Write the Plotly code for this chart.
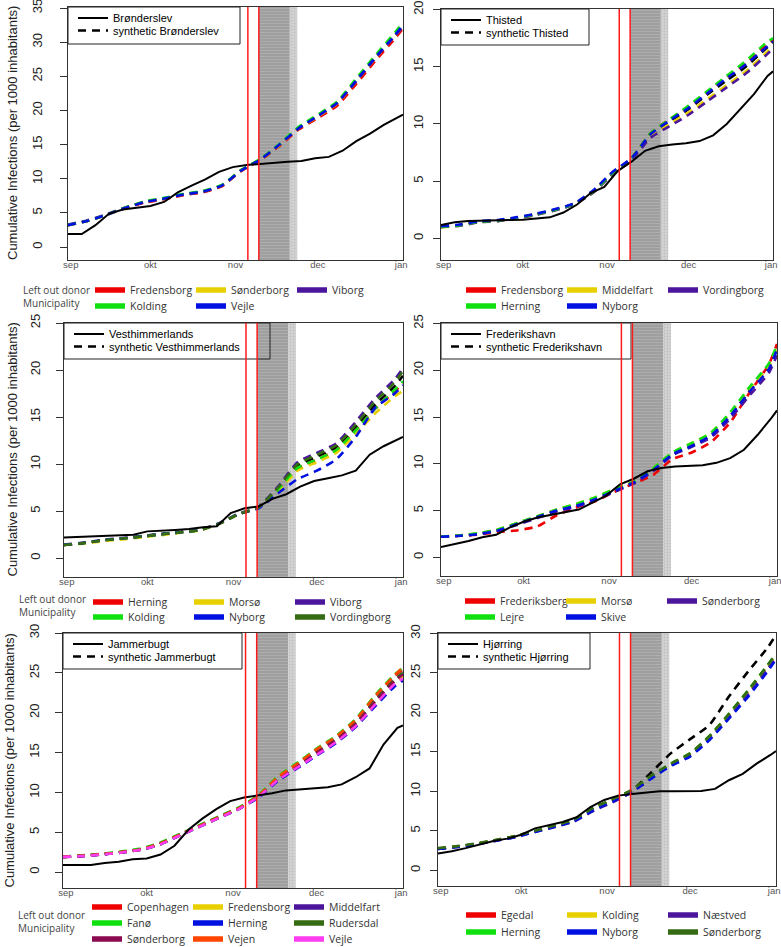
import plotly.graph_objects as go
from datetime import datetime

W, H = 781, 947

# ---------------- dates ----------------
dates_actual = ["2020-09-01", "2020-09-06", "2020-09-11", "2020-09-16", "2020-09-21", "2020-09-26",
                "2020-10-01", "2020-10-06", "2020-10-11", "2020-10-16", "2020-10-21", "2020-10-26", "2020-10-31",
                "2020-11-05", "2020-11-10", "2020-11-15", "2020-11-20", "2020-11-25", "2020-11-30",
                "2020-12-05", "2020-12-10", "2020-12-15", "2020-12-20", "2020-12-25", "2020-12-30", "2021-01-01"]
dates_synth = ["2020-09-01", "2020-09-08", "2020-09-15", "2020-09-22", "2020-09-29", "2020-10-06",
               "2020-10-13", "2020-10-20", "2020-10-27", "2020-11-03", "2020-11-10", "2020-11-17",
               "2020-11-24", "2020-12-01", "2020-12-08", "2020-12-15", "2020-12-22", "2020-12-29", "2021-01-01"]

announce_date = "2020-11-05 12:00"
lockdown_start = "2020-11-09 12:00"
lockdown_end = "2020-11-20 19:00"
phaseout_end = "2020-11-23 12:00"

x_start, x_end = "2020-09-01", "2021-01-01"
tick_dates = ["2020-09-02", "2020-10-01", "2020-11-01", "2020-12-01", "2020-12-31 08:00"]
tick_text = ["sep", "okt", "nov", "dec", "jan"]

# ---------------- colours ----------------
RED, YEL, PUR, GRN, BLU = "#ee0000", "#e8d000", "#4b159c", "#10e010", "#0010e0"
DKG, MAR, ORR, MAG = "#356b12", "#8b0a50", "#ff4500", "#ff3cf0"

# ---------------- Brønderslev ----------------
bron_actual = [1.9, 1.9, 3.2, 4.9, 5.5, 5.7, 6.0, 6.6, 8.0, 9.0, 9.9, 11.0, 11.7, 12.0, 12.2, 12.4,
               12.5, 12.6, 13.0, 13.2, 14.1, 15.5, 16.6, 17.9, 19.0, 19.4]
bron_synth = [3.2, 3.8, 4.7, 5.75, 6.6, 7.1, 7.7, 8.1, 9.0, 11.2, 12.8, 14.9, 17.4, 19.1, 21.0, 24.3, 27.7, 30.9, 32.3]
bron_fredensborg = [3.2, 3.8, 4.7, 5.7, 6.5, 7.0, 7.6, 8.0, 8.9, 11.1, 12.7, 14.8, 17.2, 18.9, 20.7, 23.9, 27.3, 30.5, 32.0]
bron_sonderborg = [3.2, 3.8, 4.7, 5.8, 6.6, 7.1, 7.7, 8.1, 9.0, 11.2, 12.8, 14.9, 17.4, 19.1, 21.0, 24.3, 27.7, 30.9, 32.4]
bron_viborg = [3.3, 3.9, 4.8, 5.8, 6.6, 7.1, 7.7, 8.1, 9.0, 11.2, 12.8, 15.0, 17.4, 19.2, 21.1, 24.3, 27.7, 30.9, 32.3]
bron_kolding = [3.2, 3.8, 4.7, 5.8, 6.7, 7.2, 7.8, 8.2, 9.1, 11.3, 12.9, 15.1, 17.6, 19.4, 21.3, 24.7, 28.1, 31.4, 32.9]
bron_vejle = [3.2, 3.8, 4.7, 5.75, 6.6, 7.1, 7.7, 8.1, 9.0, 11.2, 12.8, 15.0, 17.4, 19.2, 21.1, 24.4, 27.8, 31.0, 32.5]

# ---------------- Thisted ----------------
thi_actual = [1.15, 1.4, 1.5, 1.55, 1.6, 1.6, 1.62, 1.7, 1.83, 2.25, 2.95, 3.95, 4.5, 5.9, 6.7, 7.65,
              8.05, 8.2, 8.3, 8.5, 9.0, 10.0, 11.3, 12.6, 14.2, 14.6]
thi_synth = [1.0, 1.15, 1.45, 1.55, 1.8, 2.1, 2.5, 3.0, 4.1, 5.7, 6.9, 9.0, 10.2, 11.3, 12.6, 13.8, 15.0, 16.5, 17.2]
thi_fredensborg = [1.0, 1.15, 1.45, 1.55, 1.8, 2.1, 2.5, 3.0, 4.1, 5.7, 7.0, 9.2, 10.4, 11.5, 12.8, 14.1, 15.3, 16.8, 17.4]
thi_middelfart = [0.95, 1.1, 1.4, 1.5, 1.75, 2.05, 2.45, 2.95, 4.0, 5.6, 6.85, 8.9, 10.0, 11.0, 12.2, 13.4, 14.6, 16.1, 16.9]
thi_vordingborg = [1.0, 1.1, 1.4, 1.5, 1.75, 2.05, 2.45, 2.95, 4.0, 5.6, 6.8, 8.8, 9.8, 10.8, 12.0, 13.2, 14.4, 15.9, 16.6]
thi_herning = [1.0, 1.15, 1.45, 1.55, 1.8, 2.1, 2.5, 3.0, 4.1, 5.7, 7.0, 9.2, 10.4, 11.6, 12.9, 14.2, 15.5, 17.0, 17.5]
thi_nyborg = [1.05, 1.2, 1.5, 1.6, 1.85, 2.15, 2.55, 3.05, 4.2, 5.8, 7.0, 9.1, 10.3, 11.4, 12.7, 14.0, 15.2, 16.6, 17.2]

# ---------------- Vesthimmerlands ----------------
vest_actual = [2.2, 2.25, 2.3, 2.35, 2.4, 2.5, 2.85, 2.9, 3.0, 3.1, 3.3, 3.4, 4.8, 5.3, 5.5, 6.3,
               6.8, 7.6, 8.2, 8.5, 8.8, 9.3, 11.0, 11.9, 12.6, 12.9]
vest_synth = [1.4, 1.6, 1.9, 2.1, 2.3, 2.55, 2.75, 3.0, 3.7, 4.7, 5.4, 7.4, 9.8, 10.8, 11.8, 13.9, 16.3, 18.3, 19.4]
vest_herning = [1.4, 1.6, 1.9, 2.1, 2.3, 2.55, 2.75, 3.0, 3.7, 4.7, 5.4, 7.3, 9.5, 10.5, 11.5, 13.6, 15.9, 17.7, 18.6]
vest_morso = [1.4, 1.55, 1.8, 2.0, 2.2, 2.45, 2.7, 2.95, 3.65, 4.7, 5.4, 7.1, 9.3, 10.2, 11.2, 13.2, 15.4, 17.2, 17.8]
vest_viborg = [1.45, 1.65, 1.95, 2.15, 2.35, 2.6, 2.8, 3.05, 3.75, 4.75, 5.45, 7.6, 10.2, 11.2, 12.2, 14.5, 17.0, 19.0, 20.2]
vest_kolding = [1.4, 1.6, 1.9, 2.1, 2.3, 2.55, 2.75, 3.0, 3.7, 4.7, 5.4, 7.3, 9.6, 10.5, 11.5, 13.6, 15.9, 17.9, 18.8]
vest_nyborg = [1.4, 1.6, 1.9, 2.1, 2.3, 2.55, 2.75, 3.0, 3.7, 4.7, 5.3, 6.9, 8.4, 9.3, 10.5, 12.9, 16.0, 17.5, 18.4]
vest_vordingborg = [1.4, 1.6, 1.9, 2.1, 2.3, 2.55, 2.75, 3.0, 3.7, 4.7, 5.4, 7.5, 10.0, 11.0, 12.0, 14.2, 16.7, 18.7, 19.9]

# ---------------- Frederikshavn ----------------
fred_actual = [1.1, 1.4, 1.75, 2.15, 2.4, 3.2, 3.8, 4.25, 4.55, 4.8, 5.1, 5.85, 6.6, 7.8, 8.4, 9.2,
               9.55, 9.7, 9.8, 9.85, 10.1, 10.6, 11.5, 13.1, 14.9, 15.7]
fred_synth = [2.2, 2.3, 2.5, 2.9, 3.6, 4.3, 5.0, 5.55, 6.25, 7.15, 8.0, 9.3, 11.0, 11.9, 13.0, 15.1, 17.8, 20.3, 22.5]
fred_frederiksberg = [2.2, 2.3, 2.45, 2.7, 2.9, 3.3, 4.5, 5.3, 6.0, 7.0, 7.9, 8.8, 10.5, 11.2, 12.3, 14.4, 17.6, 20.6, 22.8]
fred_morso = [2.2, 2.35, 2.6, 3.0, 3.7, 4.4, 5.1, 5.7, 6.4, 7.3, 8.1, 9.5, 11.2, 12.2, 13.3, 15.4, 18.0, 20.4, 22.4]
fred_sonderborg = [2.2, 2.3, 2.5, 2.9, 3.5, 4.2, 4.9, 5.4, 6.1, 7.0, 7.9, 9.2, 10.9, 11.8, 12.8, 14.8, 17.3, 19.7, 21.6]
fred_lejre = [2.2, 2.35, 2.6, 3.0, 3.7, 4.4, 5.1, 5.7, 6.4, 7.3, 8.1, 9.5, 11.2, 12.2, 13.3, 15.5, 18.2, 20.7, 22.7]
fred_skive = [2.2, 2.3, 2.5, 2.9, 3.6, 4.3, 5.0, 5.5, 6.2, 7.1, 8.0, 9.3, 11.0, 11.9, 13.0, 15.1, 17.7, 20.1, 22.2]

# ---------------- Jammerbugt ----------------
jam_actual = [0.9, 0.9, 0.9, 1.15, 1.3, 1.6, 1.7, 2.2, 3.3, 5.3, 6.7, 7.9, 8.9, 9.35, 9.6, 9.9,
              10.25, 10.4, 10.5, 10.65, 11.0, 11.9, 13.0, 16.0, 18.1, 18.4]
jam_synth = [1.9, 2.05, 2.25, 2.5, 2.85, 3.6, 4.7, 5.8, 6.9, 8.0, 9.5, 11.7, 13.3, 15.0, 16.6, 18.6, 21.4, 24.0, 24.8]
jam_copenhagen = [1.9, 2.05, 2.25, 2.5, 2.85, 3.6, 4.7, 5.8, 6.9, 8.0, 9.5, 11.9, 13.6, 15.4, 17.0, 19.0, 22.0, 24.6, 25.4]
jam_fredensborg = [1.9, 2.0, 2.2, 2.45, 2.8, 3.5, 4.6, 5.7, 6.8, 7.9, 9.4, 11.6, 13.2, 14.8, 16.4, 18.4, 21.2, 23.8, 24.6]
jam_middelfart = [1.9, 2.0, 2.2, 2.45, 2.8, 3.5, 4.6, 5.7, 6.8, 7.9, 9.4, 11.6, 13.2, 14.9, 16.5, 18.6, 21.5, 24.1, 24.9]
jam_fano = [1.95, 2.1, 2.3, 2.6, 2.95, 3.7, 4.8, 5.9, 7.0, 8.1, 9.6, 12.0, 13.7, 15.5, 17.1, 19.2, 22.2, 24.8, 25.6]
jam_herning = [1.9, 2.0, 2.2, 2.45, 2.8, 3.5, 4.6, 5.7, 6.8, 7.9, 9.3, 11.4, 13.0, 14.6, 16.2, 18.2, 20.8, 23.3, 24.0]
jam_rudersdal = [1.9, 2.05, 2.25, 2.5, 2.85, 3.6, 4.7, 5.8, 6.9, 8.0, 9.5, 11.7, 13.4, 15.1, 16.7, 18.7, 21.6, 24.2, 25.0]
jam_sonderborg = [1.9, 2.05, 2.25, 2.5, 2.85, 3.6, 4.7, 5.8, 6.9, 8.0, 9.5, 11.7, 13.3, 15.0, 16.6, 18.6, 21.4, 24.0, 24.8]
jam_vejen = [1.9, 2.05, 2.25, 2.5, 2.85, 3.6, 4.7, 5.8, 6.9, 8.0, 9.5, 11.9, 13.6, 15.4, 17.0, 19.1, 22.1, 24.7, 25.7]
jam_vejle = [1.9, 2.0, 2.2, 2.45, 2.8, 3.5, 4.6, 5.7, 6.8, 7.9, 9.4, 11.5, 13.1, 14.7, 16.3, 18.3, 21.0, 23.6, 24.3]

# ---------------- Hjørring ----------------
hjo_actual = [2.1, 2.4, 2.8, 3.25, 3.7, 4.0, 4.5, 5.3, 5.7, 6.1, 6.7, 8.0, 8.9, 9.45, 9.65, 9.8,
              10.0, 10.0, 10.0, 10.05, 10.3, 11.4, 12.2, 13.5, 14.6, 15.1]
hjo_synth = [2.75, 3.0, 3.35, 3.8, 4.3, 4.95, 5.6, 6.35, 7.9, 8.85, 10.1, 12.4, 14.8, 16.6, 18.4, 22.0, 25.2, 28.2, 29.8]
hjo_egedal = [2.75, 3.0, 3.35, 3.8, 4.3, 4.95, 5.6, 6.35, 7.9, 8.9, 10.1, 11.9, 13.4, 14.7, 16.9, 19.6, 22.6, 25.8, 27.2]
hjo_kolding = [2.75, 3.0, 3.35, 3.8, 4.3, 4.95, 5.6, 6.3, 7.8, 8.8, 10.0, 11.8, 13.4, 14.7, 16.9, 19.7, 22.7, 25.9, 27.3]
hjo_naestved = [2.7, 2.95, 3.3, 3.75, 4.2, 4.85, 5.45, 6.15, 7.5, 8.6, 9.9, 11.7, 13.3, 14.6, 16.7, 19.4, 22.3, 25.5, 27.0]
hjo_herning = [2.75, 3.0, 3.35, 3.8, 4.3, 4.95, 5.6, 6.35, 7.9, 8.9, 10.1, 11.9, 13.5, 14.8, 17.0, 19.8, 22.8, 26.0, 27.4]
hjo_nyborg = [2.7, 2.95, 3.3, 3.75, 4.2, 4.85, 5.5, 6.2, 7.6, 8.7, 9.9, 11.6, 13.2, 14.4, 16.5, 19.2, 22.0, 25.2, 26.7]
hjo_sonderborg = [2.8, 3.05, 3.4, 3.85, 4.35, 5.0, 5.65, 6.4, 7.9, 9.0, 10.2, 12.0, 13.5, 14.8, 17.0, 19.8, 22.8, 26.0, 27.4]

panels = [
    dict(name="Brønderslev", actual=bron_actual, synth=bron_synth,
         donors=[("Fredensborg", bron_fredensborg, RED), ("Sønderborg", bron_sonderborg, YEL),
                 ("Viborg", bron_viborg, PUR), ("Kolding", bron_kolding, GRN), ("Vejle", bron_vejle, BLU)],
         rows=[["Fredensborg", "Sønderborg", "Viborg"], ["Kolding", "Vejle"]],
         yr=[-1.9, 35.15], ymax_tick=35, ystand=13,
         box=(68, 403, 7, 260), legbox=(172, 37), leg_x=135, leg_rows=[290, 306],
         ytitle_x=12.5, note=(22, 296)),
    dict(name="Thisted", actual=thi_actual, synth=thi_synth,
         donors=[("Fredensborg", thi_fredensborg, RED), ("Middelfart", thi_middelfart, YEL),
                 ("Vordingborg", thi_vordingborg, PUR), ("Herning", thi_herning, GRN), ("Nyborg", thi_nyborg, BLU)],
         rows=[["Fredensborg", "Middelfart", "Vordingborg"], ["Herning", "Nyborg"]],
         yr=[-1.9, 20.05], ymax_tick=20, ystand=5,
         box=(441, 773, 9, 260), legbox=(148, 36), leg_x=506, leg_rows=[290, 306],
         ytitle_x=None, note=None),
    dict(name="Vesthimmerlands", actual=vest_actual, synth=vest_synth,
         donors=[("Herning", vest_herning, RED), ("Morsø", vest_morso, YEL), ("Viborg", vest_viborg, PUR),
                 ("Kolding", vest_kolding, GRN), ("Nyborg", vest_nyborg, BLU), ("Vordingborg", vest_vordingborg, DKG)],
         rows=[["Herning", "Morsø", "Viborg"], ["Kolding", "Nyborg", "Vordingborg"]],
         yr=[-2.0, 25.0], ymax_tick=25, ystand=11,
         box=(64, 403, 323, 577), legbox=(206, 36), leg_x=133, leg_rows=[602, 617],
         ytitle_x=11.5, note=(18, 605)),
    dict(name="Frederikshavn", actual=fred_actual, synth=fred_synth,
         donors=[("Frederiksberg", fred_frederiksberg, RED), ("Morsø", fred_morso, YEL),
                 ("Sønderborg", fred_sonderborg, PUR), ("Lejre", fred_lejre, GRN), ("Skive", fred_skive, BLU)],
         rows=[["Frederiksberg", "Morsø", "Sønderborg"], ["Lejre", "Skive"]],
         yr=[-2.0, 25.05], ymax_tick=25, ystand=5,
         box=(441, 777, 323, 576), legbox=(190, 36), leg_x=505, leg_rows=[601, 617],
         ytitle_x=None, note=None),
    dict(name="Jammerbugt", actual=jam_actual, synth=jam_synth,
         donors=[("Copenhagen", jam_copenhagen, RED), ("Fredensborg", jam_fredensborg, YEL),
                 ("Middelfart", jam_middelfart, PUR), ("Fanø", jam_fano, GRN), ("Herning", jam_herning, BLU),
                 ("Rudersdal", jam_rudersdal, DKG), ("Sønderborg", jam_sonderborg, MAR),
                 ("Vejen", jam_vejen, ORR), ("Vejle", jam_vejle, MAG)],
         rows=[["Copenhagen", "Fredensborg", "Middelfart"], ["Fanø", "Herning", "Rudersdal"],
               ["Sønderborg", "Vejen", "Vejle"]],
         yr=[-2.0, 30.0], ymax_tick=30, ystand=11,
         box=(63, 403, 633, 888), legbox=(179, 36), leg_x=132, leg_rows=[907, 923, 939],
         ytitle_x=9, note=(17, 921)),
    dict(name="Hjørring", actual=hjo_actual, synth=hjo_synth,
         donors=[("Egedal", hjo_egedal, RED), ("Kolding", hjo_kolding, YEL), ("Næstved", hjo_naestved, PUR),
                 ("Herning", hjo_herning, GRN), ("Nyborg", hjo_nyborg, BLU), ("Sønderborg", hjo_sonderborg, DKG)],
         rows=[["Egedal", "Kolding", "Næstved"], ["Herning", "Nyborg", "Sønderborg"]],
         yr=[-2.0, 30.05], ymax_tick=30, ystand=5,
         box=(438, 776, 633, 886), legbox=(152, 36), leg_x=506, leg_rows=[915, 932],
         ytitle_x=None, note=None),
]

AXFONT = "Liberation Sans, Arial, sans-serif"
LEGFONT = "Open Sans, sans-serif"
LEG_DY = 0


def ts(s):
    return datetime.fromisoformat(s)


fig = go.Figure()
layout = dict(width=W, height=H, margin=dict(l=0, r=0, t=0, b=0, autoexpand=False), paper_bgcolor="white",
              plot_bgcolor="white", font=dict(family=AXFONT, color="black"), barmode="overlay",
              showlegend=True)
annotations = []
shapes = []
leg_count = [0]


def new_legend():
    leg_count[0] += 1
    return "legend" if leg_count[0] == 1 else f"legend{leg_count[0]}"


for i, p in enumerate(panels):
    k = i + 1
    sfx = "" if k == 1 else str(k)
    xa, ya = "x" + sfx, "y" + sfx
    xl, yl = "xaxis" + sfx, "yaxis" + sfx
    x0, x1, yt, yb = p["box"]

    # shaded lockdown periods
    for (a, b, bg, fg, shp, sz, sol) in [(lockdown_start, lockdown_end, "#9d9d9d", "#bdbdbd", "-", 3, 0.4),
                                         (lockdown_end, phaseout_end, "#d3d3d3", "#ababab", ".", 3, 0.3)]:
        mid = ts(a) + (ts(b) - ts(a)) / 2
        width_ms = (ts(b) - ts(a)).total_seconds() * 1000
        fig.add_trace(go.Bar(x=[mid], y=[p["yr"][1] - p["yr"][0]], base=[p["yr"][0]], width=[width_ms],
                             marker=dict(color=bg, line=dict(width=0),
                                         pattern=dict(shape=shp, fgcolor=fg, bgcolor=bg, size=sz, solidity=sol)),
                             showlegend=False, hoverinfo="skip", xaxis=xa, yaxis=ya))

    # inner legend: two single-entry legends inside one frame
    leg_actual, leg_synth = new_legend(), new_legend()
    for lid, dy in ((leg_actual, 11.0), (leg_synth, 23.5)):
        layout[lid] = dict(x=(x0 + 5) / W, y=1 - (yt + dy) / H, xanchor="left", yanchor="middle",
                           bgcolor="rgba(0,0,0,0)", borderwidth=0, tracegroupgap=0,
                           font=dict(family=AXFONT, size=11, color="black"))
    bw_, bh_ = p["legbox"]
    shapes.append(dict(type="rect", xref="paper", yref="paper", x0=x0 / W, x1=(x0 + bw_) / W,
                       y0=1 - (yt + bh_) / H, y1=1 - yt / H, line=dict(color="#222222", width=1),
                       fillcolor="rgba(0,0,0,0)", layer="above"))

    # synthetic (all donors)
    fig.add_trace(go.Scatter(x=dates_synth, y=p["synth"], mode="lines", name="synthetic " + p["name"],
                             line=dict(color="black", width=2.6, dash="8px,6px", shape="spline", smoothing=0.5),
                             legend=leg_synth, xaxis=xa, yaxis=ya))
    # leave-one-out synthetics
    for (dn, vals, col) in p["donors"]:
        fig.add_trace(go.Scatter(x=dates_synth, y=vals, mode="lines", name=dn, showlegend=False,
                                 line=dict(color=col, width=2.6, dash="8px,6px", shape="spline", smoothing=0.5),
                                 xaxis=xa, yaxis=ya))
    # actual
    fig.add_trace(go.Scatter(x=dates_actual, y=p["actual"], mode="lines", name=p["name"],
                             line=dict(color="black", width=2),
                             legend=leg_actual, xaxis=xa, yaxis=ya))

    # colour legend rows
    colmap = {dn: col for (dn, vals, col) in p["donors"]}
    for r, row in enumerate(p["rows"]):
        lid = new_legend()
        for dn in row:
            fig.add_trace(go.Scatter(x=[None], y=[None], mode="lines", name=dn,
                                     line=dict(color=colmap[dn], width=5.5),
                                     legend=lid, showlegend=True, hoverinfo="skip", xaxis=xa, yaxis=ya))
        layout[lid] = dict(orientation="h", x=(p["leg_x"] - 45) / W,
                           y=1 - (p["leg_rows"][r] + LEG_DY) / H,
                           xanchor="left", yanchor="middle", entrywidth=56, entrywidthmode="pixels",
                           bgcolor="rgba(0,0,0,0)", borderwidth=0, itemwidth=30, tracegroupgap=0,
                           font=dict(family=LEGFONT, size=10.5, color="#333333"))

    layout[xl] = dict(domain=[x0 / W, x1 / W], anchor=ya, type="date", range=[x_start, x_end],
                      tickmode="array", tickvals=tick_dates, ticktext=tick_text, ticks="",
                      ticklabelstandoff=-4, ticklabeloverflow="allow",
                      tickfont=dict(size=9.5, color="#555555", family=AXFONT),
                      showgrid=False, zeroline=False, showline=True, mirror=True,
                      linecolor="#333333", linewidth=1)
    layout[yl] = dict(domain=[1 - yb / H, 1 - yt / H], anchor=xa, range=p["yr"],
                      tickmode="array", tickvals=list(range(0, p["ymax_tick"] + 1, 5)),
                      ticks="outside", ticklen=7, tickcolor="#333333", tickangle=-90,
                      ticklabelstandoff=p["ystand"], ticklabeloverflow="allow",
                      tickfont=dict(size=13, color="#222222", family=AXFONT),
                      showgrid=False, zeroline=False, showline=True, mirror=True,
                      linecolor="#333333", linewidth=1)

    # policy date lines
    for d in (announce_date, lockdown_start):
        shapes.append(dict(type="line", xref=xa, yref=ya + " domain", x0=d, x1=d, y0=0, y1=1,
                           line=dict(color="#ff1a1a", width=1.5), layer="above"))

    if p["ytitle_x"] is not None:
        annotations.append(dict(text="Cumulative Infections (per 1000 inhabitants)", textangle=-90,
                                xref="paper", yref="paper", x=p["ytitle_x"] / W, y=1 - (yt + yb) / 2 / H,
                                xanchor="center", yanchor="middle", showarrow=False,
                                font=dict(family=AXFONT, size=13, color="#222222")))
    if p["note"] is not None:
        nx, ny = p["note"]
        annotations.append(dict(text="Left out donor<br>Municipality", xref="paper", yref="paper",
                                x=nx / W, y=1 - ny / H, xanchor="left", yanchor="middle", align="left",
                                showarrow=False, borderpad=0,
                                font=dict(family=LEGFONT, size=10, color="#444444")))

layout["annotations"] = annotations
layout["shapes"] = shapes
fig.update_layout(**layout)
fig.write_html("out.html")
